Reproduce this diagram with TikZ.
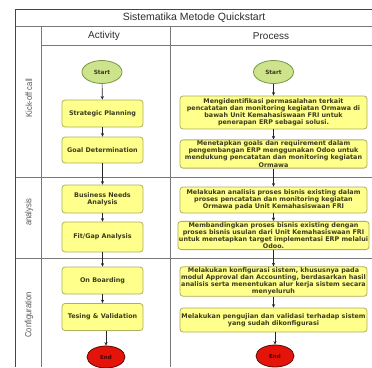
\documentclass[tikz,border=0pt]{standalone}
\usepackage{fontspec}
\setmainfont{Liberation Sans}
\newfontfamily\boxfont{DejaVu Sans}
\newfontfamily\lanefont[FakeStretch=0.85]{Liberation Sans}
\usetikzlibrary{shapes.geometric,arrows.meta}
\definecolor{boxfill}{RGB}{255,255,140}
\definecolor{boxdraw}{RGB}{175,175,95}
\definecolor{startfill}{RGB}{205,228,140}
\definecolor{startdraw}{RGB}{120,150,70}
\definecolor{endfill}{RGB}{228,20,10}
\definecolor{enddraw}{RGB}{90,10,5}
\definecolor{gridline}{RGB}{120,120,120}
\definecolor{frameline}{RGB}{70,70,70}
\definecolor{headtext}{RGB}{45,45,45}
\definecolor{boxtext}{RGB}{60,60,30}
\tikzset{
  flowbox/.style={rectangle, rounded corners=3pt, draw=boxdraw, fill=boxfill, line width=0.8pt,
    align=center, inner sep=1pt, text=boxtext,
    font=\boxfont\bfseries\fontsize{6.4}{7.1}\selectfont},
  actbox/.style={flowbox, minimum width=81pt},
  procbox/.style={flowbox, minimum width=187pt},
  startnode/.style={ellipse, draw=startdraw, fill=startfill, line width=0.8pt, minimum width=40pt,
    minimum height=23pt, inner sep=0pt, text=boxtext, font=\boxfont\bfseries\fontsize{5.8}{6}\selectfont},
  endnode/.style={ellipse, draw=enddraw, fill=endfill, line width=0.8pt, minimum width=38pt,
    minimum height=22pt, inner sep=0pt, font=\boxfont\bfseries\fontsize{5.5}{6}\selectfont, text=black!70!red},
  conn/.style={-{Stealth[length=3.5pt,width=3.2pt]}, line width=0.6pt, draw=black!85},
  grid/.style={draw=gridline, line width=0.6pt},
  lanelabel/.style={rotate=90, text=black!65, font=\lanefont\fontsize{9}{10}\selectfont},
  headlabel/.style={text=headtext, font=\fontsize{10}{12}\selectfont}
}
\begin{document}
\begin{tikzpicture}[x=1pt,y=-1pt]
\useasboundingbox (0,0) rectangle (372,367);
\fill[white] (0,0) rectangle (372,367);
% swimlane frame
\draw[grid] (15.5,26.5) -- (372,26.5);
\draw[grid] (41.7,45) -- (372,45);
\draw[grid] (41.7,26.5) -- (41.7,367);
\draw[grid] (170,26.5) -- (170,367);
\draw[grid] (15.5,177) -- (372,177);
\draw[grid] (15.5,258) -- (372,258);
\draw[draw=frameline, line width=0.7pt] (15.5,367) -- (15.5,9.5) -- (372,9.5);
% headers
\node[headlabel, font=\fontsize{10.5}{12}\selectfont] (title) at (194,18) {Sistematika Metode Quickstart};
\node[headlabel] (hact) at (104,36) {Activity};
\node[headlabel] (hproc) at (271,36) {Process};
\node[lanelabel] (lane1) at (29,98) {Kick-off call};
\node[lanelabel] (lane2) at (29,212) {analysis};
\node[lanelabel] (lane3) at (29,315) {Configuration};
% activity column
\node[startnode] (sa) at (102,72) {Start};
\node[actbox, minimum height=27pt] (sp) at (102.5,113.5) {Strategic Planning};
\node[actbox, minimum height=26pt] (gd) at (102.5,150) {Goal Determination};
\node[actbox, minimum height=28pt] (bn) at (102.5,199) {Business Needs\\Analysis};
\node[actbox, minimum height=30pt] (fg) at (102.5,237) {Fit/Gap Analysis};
\node[actbox, minimum height=27pt] (ob) at (102.5,280.5) {On Boarding};
\node[actbox, minimum height=27pt] (tv) at (102.5,317) {Tesing \& Validation};
\node[endnode] (ea) at (106,357) {End};
% process column
\node[startnode] (sproc) at (273.5,72) {Start};
\node[procbox, minimum height=33pt] (p1) at (273.5,112.5) {Mengidentifikasi permasalahan terkait\\pencatatan dan monitoring kegiatan Ormawa di\\bawah Unit Kemahasiswaan FRI untuk\\penerapan ERP sebagai solusi.};
\node[procbox, minimum height=28pt] (p2) at (273.5,154) {Menetapkan goals dan requirement dalam\\pengembangan ERP menggunakan Odoo untuk\\mendukung pencatatan dan monitoring kegiatan\\Ormawa};
\node[procbox, minimum height=26pt] (p3) at (273.5,200) {Melakukan analisis proses bisnis existing dalam\\proses pencatatan dan monitoring kegiatan\\Ormawa pada Unit Kemahasiswaan FRI};
\node[procbox, minimum height=27pt] (p4) at (273.5,235.5) {Membandingkan proses bisnis existing dengan\\proses bisnis usulan dari Unit Kemahasiswaan FRI\\untuk menetapkan target implementasi ERP melalui\\Odoo.};
\node[procbox, minimum height=29pt] (p5) at (273.5,281.5) {Melakukan konfigurasi sistem, khususnya pada\\modul Approval dan Accounting, berdasarkan hasil\\analisis serta menentukan alur kerja sistem secara\\menyeluruh};
\node[procbox, minimum height=24pt] (p6) at (273.5,320) {Melakukan pengujian dan validasi terhadap sistem\\yang sudah dikonfigurasi};
\node[endnode] (ep) at (275,356) {End};
% connectors
\draw[conn] (sa) -- (sp);
\draw[conn] (sp) -- (gd);
\draw[conn] (gd) -- (bn);
\draw[conn] (bn) -- (fg);
\draw[conn] (fg) -- (ob);
\draw[conn] (ob) -- (tv);
\draw[conn] (tv.south -| ea) -- (ea);
\draw[conn] (sproc) -- (p1);
\draw[conn] (p1) -- (p2);
\draw[conn] (p2) -- (p3);
\draw[conn] (p3) -- (p4);
\draw[conn] (p4) -- (p5);
\draw[conn] (p5) -- (p6);
\draw[conn] (p6.south -| ep) -- (ep);
\end{tikzpicture}
\end{document}
